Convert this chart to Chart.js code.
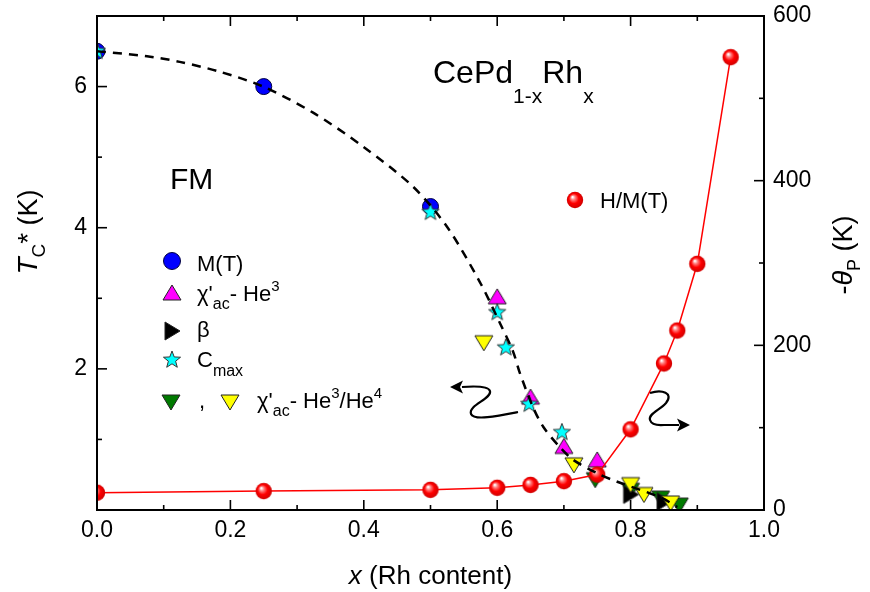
<!DOCTYPE html>
<html>
<head>
<meta charset="utf-8">
<script src="https://cdn.jsdelivr.net/npm/chart.js@4.4.0/dist/chart.umd.min.js"></script>
<style>
  html, body { margin: 0; padding: 0; background: #fff; }
  #wrap { width: 870px; height: 592px; }
</style>
</head>
<body>
<div id="wrap"><canvas id="phase"></canvas></div>
<script>
// ---- data: Tc* (left axis, K) ----
const mtX = [0, 0.25, 0.5];
const mtY = [6.5, 6.0, 4.3];

const chiHe3X = [0.6, 0.65, 0.70, 0.75];
const chiHe3Y = [3.02, 1.6, 0.90, 0.71];

const betaX = [0.80, 0.85];
const betaY = [0.22, 0.12];

const cmaxX = [0, 0.5, 0.6, 0.613, 0.648, 0.697];
const cmaxY = [6.5, 4.22, 2.8, 2.3, 1.5, 1.1];

const chiDilGreenX = [0.747, 0.80, 0.845, 0.873];
const chiDilGreenY = [0.43, 0.28, 0.17, 0.07];

const chiDilYellowX = [0.58, 0.715, 0.80, 0.82, 0.86];
const chiDilYellowY = [2.37, 0.64, 0.36, 0.22, 0.10];

// guide-to-the-eye curve for Tc*(x)
const fitX = [0, 0.075, 0.124, 0.184, 0.249, 0.324, 0.399, 0.474, 0.525, 0.574, 0.604, 0.624, 0.634, 0.654, 0.669, 0.694, 0.714, 0.75, 0.78, 0.847, 0.87];
const fitY = [6.5, 6.43, 6.35, 6.21, 6.0, 5.63, 5.15, 4.58, 4.01, 3.23, 2.65, 2.24, 1.94, 1.45, 1.18, 0.89, 0.71, 0.52, 0.40, 0.17, 0.04];

// ---- data: -theta_P (right axis, K) ----
const hmX = [0, 0.25, 0.5, 0.6, 0.65, 0.70, 0.75, 0.80, 0.85, 0.87, 0.90, 0.95];
const hmY = [21, 23, 24.5, 27, 30.5, 35, 43, 98, 178, 218, 299, 550];

// ---- axes ----
const xTickVals = [0, 0.2, 0.4, 0.6, 0.8, 1.0];
const xMinorVals = [0.1, 0.3, 0.5, 0.7, 0.9];
const tcTickVals = [2, 4, 6];
const tcMinorVals = [1, 3, 5];
const thetaTickVals = [0, 200, 400, 600];
const thetaMinorVals = [100, 300, 500];

const FONT = 'Liberation Sans, Arial, Helvetica, sans-serif';

const zip = (xs, ys) => xs.map((x, i) => ({ x: x, y: ys[i] }));

// ---- marker images ----
function marker(size, draw) {
  const c = document.createElement('canvas');
  c.width = size; c.height = size;
  draw(c.getContext('2d'), size / 2);
  return c;
}
function triPath(g, pts) {
  g.beginPath();
  g.moveTo(pts[0][0], pts[0][1]);
  g.lineTo(pts[1][0], pts[1][1]);
  g.lineTo(pts[2][0], pts[2][1]);
  g.closePath();
}
function paintTri(g, pts, fill) {
  triPath(g, pts);
  g.fillStyle = fill; g.fill();
  g.lineWidth = 1; g.strokeStyle = '#222'; g.stroke();
}
const upTri = fill => marker(22, (g, c) => paintTri(g, [[c, c - 8], [c + 9, c + 7], [c - 9, c + 7]], fill));
const downTri = fill => marker(22, (g, c) => paintTri(g, [[c - 9, c - 7], [c + 9, c - 7], [c, c + 8]], fill));
const rightTri = fill => marker(22, (g, c) => paintTri(g, [[c - 7, c - 9], [c + 8, c], [c - 7, c + 9]], fill));
const star = fill => marker(22, (g, c) => {
  g.beginPath();
  for (let i = 0; i < 10; i++) {
    const r = i % 2 ? 3.8 : 9;
    const a = -Math.PI / 2 + i * Math.PI / 5;
    const px = c + r * Math.cos(a), py = c + r * Math.sin(a);
    i ? g.lineTo(px, py) : g.moveTo(px, py);
  }
  g.closePath();
  g.fillStyle = fill; g.fill();
  g.lineWidth = 1; g.strokeStyle = '#333'; g.stroke();
});
const sphere = () => marker(20, (g, c) => {
  const grad = g.createRadialGradient(c - 2.5, c - 3, 0.5, c, c, 8.5);
  grad.addColorStop(0, '#ffffff');
  grad.addColorStop(0.22, '#ff8080');
  grad.addColorStop(0.55, '#ff0000');
  grad.addColorStop(1, '#cc0000');
  g.beginPath(); g.arc(c, c, 8.2, 0, Math.PI * 2);
  g.fillStyle = grad; g.fill();
});

const imgMagenta = upTri('#ff00ff');
const imgYellow = downTri('#ffff00');
const imgGreen = downTri('#007a00');
const imgBeta = rightTri('#000000');
const imgStar = star('#00ffff');
const imgSphere = sphere();

// ---- text helpers ----
function rich(ctx, x, y, parts, align) {
  const measured = parts.map(p => {
    ctx.font = (p.italic ? 'italic ' : '') + p.size + 'px ' + FONT;
    return ctx.measureText(p.t).width;
  });
  const total = measured.reduce((a, b) => a + b, 0);
  let cx = align === 'center' ? x - total / 2 : x;
  ctx.textBaseline = 'alphabetic';
  ctx.textAlign = 'left';
  parts.forEach((p, i) => {
    ctx.font = (p.italic ? 'italic ' : '') + p.size + 'px ' + FONT;
    ctx.fillText(p.t, cx, y + (p.dy || 0));
    cx += measured[i];
  });
}

function arrowHead(ctx, tipX, tipY, dir) {
  ctx.beginPath();
  ctx.moveTo(tipX, tipY);
  ctx.lineTo(tipX - dir * 13, tipY - 6.5);
  ctx.lineTo(tipX - dir * 10, tipY);
  ctx.lineTo(tipX - dir * 13, tipY + 6.5);
  ctx.closePath();
  ctx.fill();
}

// frame, inward ticks, titles, legend and annotations
const decorations = {
  id: 'decorations',
  afterDraw(chart) {
    const ctx = chart.ctx;
    const a = chart.chartArea;
    const sx = chart.scales.x, sy = chart.scales.y, sy1 = chart.scales.y1;
    ctx.save();
    ctx.strokeStyle = '#000';
    ctx.fillStyle = '#000';
    ctx.lineWidth = 2;
    ctx.strokeRect(a.left, a.top, a.right - a.left, a.bottom - a.top);

    ctx.lineWidth = 1.6;
    const tick = (x1, y1, x2, y2) => { ctx.beginPath(); ctx.moveTo(x1, y1); ctx.lineTo(x2, y2); ctx.stroke(); };
    xTickVals.forEach(v => { const px = sx.getPixelForValue(v); tick(px, a.bottom, px, a.bottom - 10); tick(px, a.top, px, a.top + 10); });
    xMinorVals.forEach(v => { const px = sx.getPixelForValue(v); tick(px, a.bottom, px, a.bottom - 5); tick(px, a.top, px, a.top + 5); });
    tcTickVals.forEach(v => { const py = sy.getPixelForValue(v); tick(a.left, py, a.left + 10, py); });
    tcMinorVals.forEach(v => { const py = sy.getPixelForValue(v); tick(a.left, py, a.left + 5, py); });
    thetaTickVals.forEach(v => { const py = sy1.getPixelForValue(v); tick(a.right, py, a.right - 10, py); });
    thetaMinorVals.forEach(v => { const py = sy1.getPixelForValue(v); tick(a.right, py, a.right - 5, py); });

    // axis titles
    rich(ctx, (a.left + a.right) / 2, 584, [
      { t: 'x', size: 26, italic: true },
      { t: ' (Rh content)', size: 26 }
    ], 'center');

    ctx.save();
    ctx.translate(37, 232);
    ctx.rotate(-Math.PI / 2);
    rich(ctx, 0, 0, [
      { t: 'T', size: 28, italic: true },
      { t: 'C', size: 19, dy: 8 },
      { t: '*', size: 28 },
      { t: ' (K)', size: 27 }
    ], 'center');
    ctx.restore();

    ctx.save();
    ctx.translate(852, 255);
    ctx.rotate(-Math.PI / 2);
    rich(ctx, 0, 0, [
      { t: '-', size: 27 },
      { t: 'θ', size: 27, italic: true },
      { t: 'P', size: 18, dy: 8 },
      { t: ' (K)', size: 27 }
    ], 'center');
    ctx.restore();

    // compound and phase labels
    rich(ctx, 433, 83, [
      { t: 'CePd', size: 32 },
      { t: '1-x', size: 21, dy: 20 },
      { t: 'Rh', size: 32 },
      { t: 'x', size: 21, dy: 20 }
    ]);
    rich(ctx, 170, 189, [{ t: 'FM', size: 30 }]);

    // legend for the Tc* data
    const leg = (img, x, y) => ctx.drawImage(img, x - img.width / 2, y - img.height / 2);
    ctx.beginPath(); ctx.arc(172, 261, 8.5, 0, Math.PI * 2);
    ctx.fillStyle = '#0000ff'; ctx.fill(); ctx.lineWidth = 1; ctx.strokeStyle = '#000040'; ctx.stroke();
    ctx.fillStyle = '#000';
    rich(ctx, 197, 271, [{ t: 'M(T)', size: 22 }]);

    leg(imgMagenta, 172, 293);
    rich(ctx, 197, 301, [
      { t: 'χ\'', size: 22 }, { t: 'ac', size: 16, dy: 8 },
      { t: '- He', size: 22 }, { t: '3', size: 15, dy: -10 }
    ]);

    leg(imgBeta, 172, 331);
    rich(ctx, 197, 337, [{ t: 'β', size: 22 }]);

    leg(imgStar, 172, 360);
    rich(ctx, 197, 367, [{ t: 'C', size: 22 }, { t: 'max', size: 16, dy: 9 }]);

    leg(imgGreen, 171, 402);
    rich(ctx, 199, 408, [{ t: ',', size: 22 }]);
    leg(imgYellow, 230, 402);
    rich(ctx, 257, 408, [
      { t: 'χ\'', size: 22 }, { t: 'ac', size: 16, dy: 8 },
      { t: '- He', size: 22 }, { t: '3', size: 15, dy: -10 },
      { t: '/He', size: 22 }, { t: '4', size: 15, dy: -10 }
    ]);

    // legend for the H/M(T) data
    leg(imgSphere, 575, 200);
    rich(ctx, 600, 208, [{ t: 'H/M(T)', size: 22 }]);

    // curly arrows pointing to the relevant axis
    ctx.lineWidth = 2.2;
    ctx.strokeStyle = '#000';
    ctx.fillStyle = '#000';
    ctx.beginPath();
    ctx.moveTo(518, 412);
    ctx.bezierCurveTo(498, 416, 474, 421, 471, 414);
    ctx.bezierCurveTo(468, 405, 492, 399, 490, 391);
    ctx.quadraticCurveTo(488, 385, 462, 387);
    ctx.stroke();
    arrowHead(ctx, 450, 387, -1);

    ctx.beginPath();
    ctx.moveTo(650, 393);
    ctx.bezierCurveTo(662, 389, 674, 393, 666, 403);
    ctx.bezierCurveTo(660, 410, 648, 414, 650, 420);
    ctx.quadraticCurveTo(652, 426, 664, 425);
    ctx.lineTo(679, 425);
    ctx.stroke();
    arrowHead(ctx, 690, 425, 1);

    ctx.restore();
  }
};

const tickFont = { family: FONT, size: 23 };

// fixed axis band sizes; tick labels may overhang the frame
const fitVertical = w => s => { s.width = w; s.paddingTop = 0; s.paddingBottom = 0; };

new Chart(document.getElementById('phase'), {
  type: 'scatter',
  data: {
    datasets: [
      {
        label: 'fit',
        data: zip(fitX, fitY),
        showLine: true,
        borderColor: '#000',
        borderWidth: 2.5,
        borderDash: [9, 7],
        pointRadius: 0,
        tension: 0.3,
        yAxisID: 'y',
        order: 0
      },
      {
        label: 'H/M(T)',
        data: zip(hmX, hmY),
        showLine: true,
        borderColor: '#ff0000',
        borderWidth: 1.5,
        pointStyle: imgSphere,
        yAxisID: 'y1',
        order: 1
      },
      {
        label: "χ'ac He3/He4 (yellow)",
        data: zip(chiDilYellowX, chiDilYellowY),
        pointStyle: imgYellow,
        yAxisID: 'y',
        order: 2
      },
      {
        label: 'β',
        data: zip(betaX, betaY),
        pointStyle: imgBeta,
        yAxisID: 'y',
        order: 3
      },
      {
        label: "χ'ac He3/He4 (green)",
        data: zip(chiDilGreenX, chiDilGreenY),
        pointStyle: imgGreen,
        yAxisID: 'y',
        order: 4
      },
      {
        label: 'Cmax',
        data: zip(cmaxX, cmaxY),
        pointStyle: imgStar,
        yAxisID: 'y',
        order: 5
      },
      {
        label: "χ'ac He3",
        data: zip(chiHe3X, chiHe3Y),
        pointStyle: imgMagenta,
        yAxisID: 'y',
        order: 6
      },
      {
        label: 'M(T)',
        data: zip(mtX, mtY),
        pointStyle: 'circle',
        pointRadius: 8,
        backgroundColor: '#0000ff',
        borderColor: '#000040',
        borderWidth: 1,
        yAxisID: 'y',
        order: 7
      }
    ]
  },
  options: {
    responsive: true,
    maintainAspectRatio: false,
    animation: false,
    devicePixelRatio: 1,
    events: [],
    layout: { padding: { top: 16, left: 0, right: 0, bottom: 0 } },
    plugins: {
      legend: { display: false },
      tooltip: { enabled: false }
    },
    scales: {
      x: {
        type: 'linear',
        min: 0,
        max: 1,
        grid: { display: false, drawTicks: false },
        border: { display: false },
        afterBuildTicks: s => { s.ticks = xTickVals.map(v => ({ value: v })); },
        afterFit: s => { s.height = 82; s.paddingLeft = 0; s.paddingRight = 0; },
        ticks: {
          color: '#000',
          font: tickFont,
          padding: 7,
          maxRotation: 0,
          autoSkip: false,
          callback: v => v.toFixed(1)
        }
      },
      y: {
        type: 'linear',
        position: 'left',
        min: 0,
        max: 7,
        grid: { display: false, drawTicks: false },
        border: { display: false },
        afterBuildTicks: s => { s.ticks = tcTickVals.map(v => ({ value: v })); },
        afterFit: fitVertical(97),
        ticks: { color: '#000', font: tickFont, padding: 10, callback: v => String(v) }
      },
      y1: {
        type: 'linear',
        position: 'right',
        min: 0,
        max: 600,
        grid: { display: false, drawTicks: false },
        border: { display: false },
        afterBuildTicks: s => { s.ticks = thetaTickVals.map(v => ({ value: v })); },
        afterFit: fitVertical(106),
        ticks: { color: '#000', font: tickFont, padding: 9, callback: v => String(v) }
      }
    }
  },
  plugins: [decorations]
});
</script>
</body>
</html>
